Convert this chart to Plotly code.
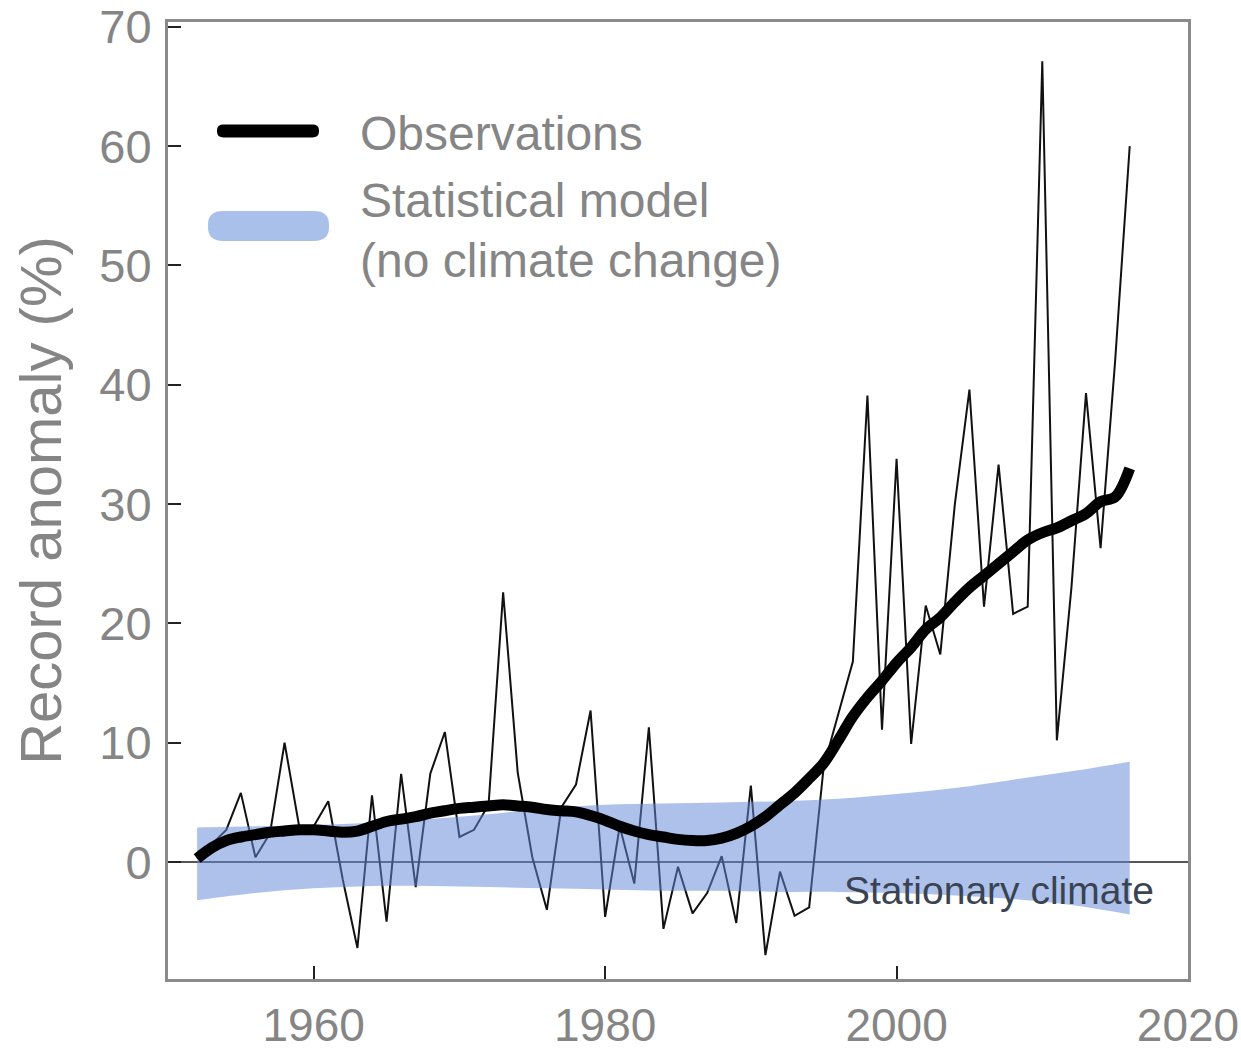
import plotly.graph_objects as go

years = list(range(1952, 2017))
observed = [0.3, 1.5, 2.7, 5.8, 0.4, 2.4, 10.0, 3.0, 3.0, 5.1,
            -1.5, -7.2, 5.6, -5.0, 7.4, -2.1, 7.4, 10.9, 2.1, 2.7,
            4.8, 22.6, 7.5, 0.4, -4.0, 4.6, 6.5, 12.7, -4.6, 3.0,
            -1.8, 11.3, -5.6, -0.4, -4.3, -2.6, 0.5, -5.1, 6.4, -7.8,
            -0.8, -4.5, -3.8, 8.0, 12.5, 16.8, 39.1, 11.1, 33.8, 9.9,
            21.5, 17.4, 30.0, 39.6, 21.4, 33.3, 20.8, 21.4, 67.1, 10.2,
            23.0, 39.3, 26.3, 42.0, 60.0]
smoothed = [0.3, 1.2, 1.8, 2.1, 2.3, 2.5, 2.6, 2.7, 2.7, 2.6,
            2.5, 2.6, 3.0, 3.4, 3.6, 3.8, 4.1, 4.3, 4.5, 4.6,
            4.7, 4.8, 4.7, 4.6, 4.4, 4.3, 4.2, 3.9, 3.5, 3.0,
            2.6, 2.3, 2.1, 1.9, 1.8, 1.8, 2.0, 2.4, 3.0, 3.8,
            4.8, 5.8, 7.0, 8.3, 10.2, 12.2, 13.8, 15.2, 16.7, 18.0,
            19.5, 20.5, 21.8, 23.0, 24.0, 25.0, 26.0, 27.0, 27.6, 28.0,
            28.6, 29.2, 30.2, 30.6, 33.0]

band_years = [1952, 1956, 1960, 1964, 1968, 1972, 1976, 1980, 1984,
              1988, 1992, 1996, 2000, 2004, 2008, 2012, 2016]
band_upper = [2.9, 3.0, 3.1, 3.3, 3.6, 4.0, 4.5, 4.8, 4.9,
              5.0, 5.1, 5.3, 5.7, 6.2, 6.9, 7.6, 8.4]
band_lower = [-3.2, -2.6, -2.2, -2.0, -2.0, -2.1, -2.2, -2.3, -2.4,
              -2.4, -2.5, -2.5, -2.6, -2.8, -3.1, -3.6, -4.4]

x_ticks = [1960, 1980, 2000, 2020]
y_ticks = [0, 10, 20, 30, 40, 50, 60, 70]

FONT = "Liberation Sans, Arial, sans-serif"
GRAY = "#858585"

fig = go.Figure()

# thin annual observations
fig.add_trace(go.Scatter(x=years, y=observed, mode="lines",
                         line=dict(color="#111111", width=2),
                         showlegend=False, hoverinfo="skip"))

# statistical model band (translucent, drawn over thin line)
fig.add_trace(go.Scatter(x=band_years, y=band_upper, mode="lines",
                         line=dict(width=0, color="rgba(0,0,0,0)"),
                         line_shape="spline",
                         showlegend=False, hoverinfo="skip"))
fig.add_trace(go.Scatter(x=band_years, y=band_lower, mode="lines",
                         line=dict(width=0, color="rgba(0,0,0,0)"),
                         line_shape="spline",
                         fill="tonexty", fillcolor="rgba(98,137,216,0.52)",
                         showlegend=False, hoverinfo="skip"))

# smoothed observations
fig.add_trace(go.Scatter(x=years, y=smoothed, mode="lines",
                         line=dict(color="#000000", width=11),
                         line_shape="spline",
                         showlegend=False, hoverinfo="skip"))

fig.add_hline(y=0, line=dict(color="#555555", width=2), layer="below")

fig.add_annotation(x=2007.0, y=-2.4, text="Stationary climate",
                   showarrow=False, xanchor="center", yanchor="middle",
                   font=dict(family=FONT, size=39, color="#3a4352"))

# legend (manual)
L, B, W, H = 168, 979, 1020, 957
def px(x):
    return (x - L) / W
def py(y):
    return (B - y) / H

def rounded_bar(x0, x1, yc, h, color):
    r = h / 2
    path = (f"M {px(x0 + r)},{py(yc - r)} L {px(x1 - r)},{py(yc - r)} "
            f"Q {px(x1 + r * 0.05)},{py(yc - r)} {px(x1)},{py(yc)} "
            f"Q {px(x1 + r * 0.05)},{py(yc + r)} {px(x1 - r)},{py(yc + r)} "
            f"L {px(x0 + r)},{py(yc + r)} "
            f"Q {px(x0 - r * 0.05)},{py(yc + r)} {px(x0)},{py(yc)} "
            f"Q {px(x0 - r * 0.05)},{py(yc - r)} {px(x0 + r)},{py(yc - r)} Z")
    fig.add_shape(type="path", path=path, xref="paper", yref="paper",
                  fillcolor=color, line=dict(width=0), layer="above")

rounded_bar(217, 319, 131, 13, "#000000")
rounded_bar(208, 329, 226, 30, "#a9c1ea")

for txt, yy in [("Observations", 133), ("Statistical model", 200),
                ("(no climate change)", 260)]:
    fig.add_annotation(x=px(358), y=py(yy), xref="paper", yref="paper",
                       text=txt, showarrow=False, xanchor="left",
                       yanchor="middle",
                       font=dict(family=FONT, size=48, color=GRAY))

fig.update_xaxes(range=[1950, 2020], tickvals=x_ticks,
                 ticktext=[str(v) for v in x_ticks],
                 ticks="inside", ticklen=13, tickwidth=2, tickcolor="#222222",
                 showline=True, linecolor="#8a8a8a", linewidth=3, mirror=True,
                 showgrid=False, zeroline=False, automargin=False,
                 tickfont=dict(family=FONT, size=46, color=GRAY),
                 ticklabelstandoff=4)
fig.update_yaxes(range=[-9.8, 70.4], tickvals=y_ticks,
                 ticktext=[str(v) for v in y_ticks],
                 ticks="inside", ticklen=13, tickwidth=2, tickcolor="#222222",
                 showline=True, linecolor="#8a8a8a", linewidth=3, mirror=True,
                 showgrid=False, zeroline=False, automargin=False,
                 tickfont=dict(family=FONT, size=47, color=GRAY),
                 ticklabelstandoff=4,
                 title=dict(text="Record anomaly (%)", standoff=20,
                            font=dict(family=FONT, size=58, color=GRAY)))

fig.update_layout(width=1241, height=1060, autosize=False,
                  margin=dict(l=168, r=53, t=22, b=81),
                  plot_bgcolor="white", paper_bgcolor="white",
                  showlegend=False)

fig.write_html("out.html")
